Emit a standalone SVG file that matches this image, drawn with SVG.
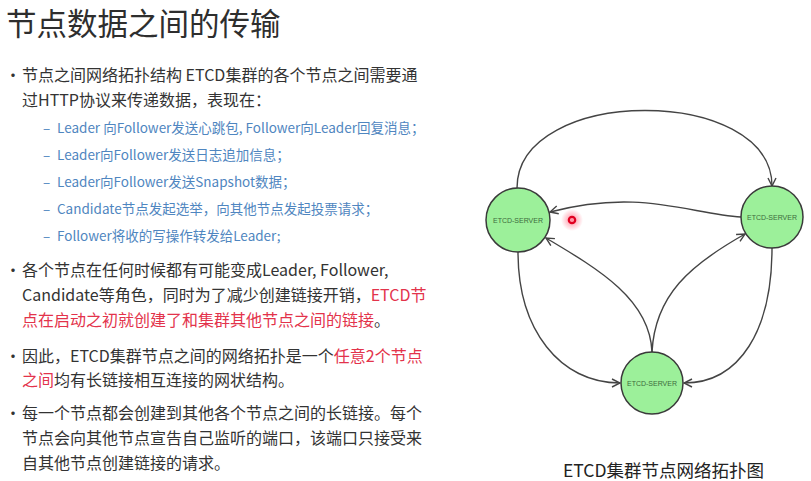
<svg xmlns="http://www.w3.org/2000/svg" width="811" height="481" viewBox="0 0 811 481">
<defs>
<style>
.t{font-family:"Noto Sans CJK SC","Liberation Sans",sans-serif;}
.title{font-size:30.5px;fill:#2e2e2e;}
.body{font-size:16px;fill:#333333;}
.sub{font-size:13.5px;fill:#4f86c0;}
.red{fill:#e3334b;}
.node circle{fill:#9cf09a;stroke:#3a3a3a;stroke-width:1.5;}
.node text{font-family:"Liberation Sans","DejaVu Sans",sans-serif;font-size:7px;fill:#3d6b3d;text-anchor:middle;}
.edge{fill:none;stroke:#444444;stroke-width:1.4;marker-end:url(#arr);}
.cap{font-size:17.5px;fill:#222222;}
</style>
<marker id="arr" viewBox="0 0 10 10" refX="9" refY="5" markerWidth="10" markerHeight="10" markerUnits="userSpaceOnUse" orient="auto">
<path d="M1,1 L9,5 L1,9" fill="none" stroke="#444444" stroke-width="1.4"/>
</marker>
<radialGradient id="glow">
<stop offset="0" stop-color="#ff3050" stop-opacity="0.55"/>
<stop offset="1" stop-color="#ff3050" stop-opacity="0"/>
</radialGradient>
</defs>
<rect width="811" height="481" fill="#ffffff"/>

<text class="t title" x="6" y="35">节点数据之间的传输</text>

<g class="t body">
<text x="5" y="80.5">•</text>
<text x="22" y="80.5">节点之间网络拓扑结构 ETCD集群的各个节点之间需要通</text>
<text x="22" y="106">过HTTP协议来传递数据，表现在：</text>
</g>
<g class="t sub">
<text x="43" y="133">–</text><text x="57" y="133">Leader 向Follower发送心跳包, Follower向Leader回复消息；</text>
<text x="43" y="160">–</text><text x="57" y="160">Leader向Follower发送日志追加信息；</text>
<text x="43" y="187">–</text><text x="57" y="187">Leader向Follower发送Snapshot数据；</text>
<text x="43" y="214">–</text><text x="57" y="214">Candidate节点发起选举，向其他节点发起投票请求；</text>
<text x="43" y="241">–</text><text x="57" y="241">Follower将收的写操作转发给Leader;</text>
</g>
<g class="t body">
<text x="5" y="276">•</text>
<text x="22" y="276">各个节点在任何时候都有可能变成Leader, Follower,</text>
<text x="22" y="301">Candidate等角色，同时为了减少创建链接开销，<tspan class="red">ETCD节</tspan></text>
<text x="22" y="326"><tspan class="red">点在启动之初就创建了和集群其他节点之间的链接</tspan>。</text>
<text x="5" y="362">•</text>
<text x="22" y="362">因此，ETCD集群节点之间的网络拓扑是一个<tspan class="red">任意2个节点</tspan></text>
<text x="22" y="386"><tspan class="red">之间</tspan>均有长链接相互连接的网状结构。</text>
<text x="5" y="419">•</text>
<text x="22" y="419">每一个节点都会创建到其他各个节点之间的长链接。每个</text>
<text x="22" y="444">节点会向其他节点宣告自己监听的端口，该端口只接受来</text>
<text x="22" y="469">自其他节点创建链接的请求。</text>
</g>

<g id="connectors">
<path class="edge" d="M517,188 C517,85 772,85 772,186"/>
<path class="edge" d="M741,217 C690,214 640,188 550,212"/>
<path class="edge" d="M652,352 C650,300 600,270 546,238"/>
<path class="edge" d="M652,352 C655,295 690,265 745,234"/>
<path class="edge" d="M518,252 C518,330 560,383 620,383"/>
<path class="edge" d="M772,248 C772,330 740,383 684,383"/>
</g>

<g id="node-left" class="node">
<circle cx="518" cy="220" r="32"/>
<text x="518" y="222.5">ETCD-SERVER</text>
</g>
<g id="node-right" class="node">
<circle cx="772" cy="217" r="31"/>
<text x="772" y="219.5">ETCD-SERVER</text>
</g>
<g id="node-bottom" class="node">
<circle cx="652" cy="383" r="31"/>
<text x="652" y="385.5">ETCD-SERVER</text>
</g>

<g id="cursor">
<circle cx="572" cy="220" r="11" fill="url(#glow)"/>
<circle cx="572" cy="220" r="3.2" fill="none" stroke="#e00020" stroke-width="2.2"/>
</g>

<text class="t cap" x="563" y="477">ETCD集群节点网络拓扑图</text>
</svg>
